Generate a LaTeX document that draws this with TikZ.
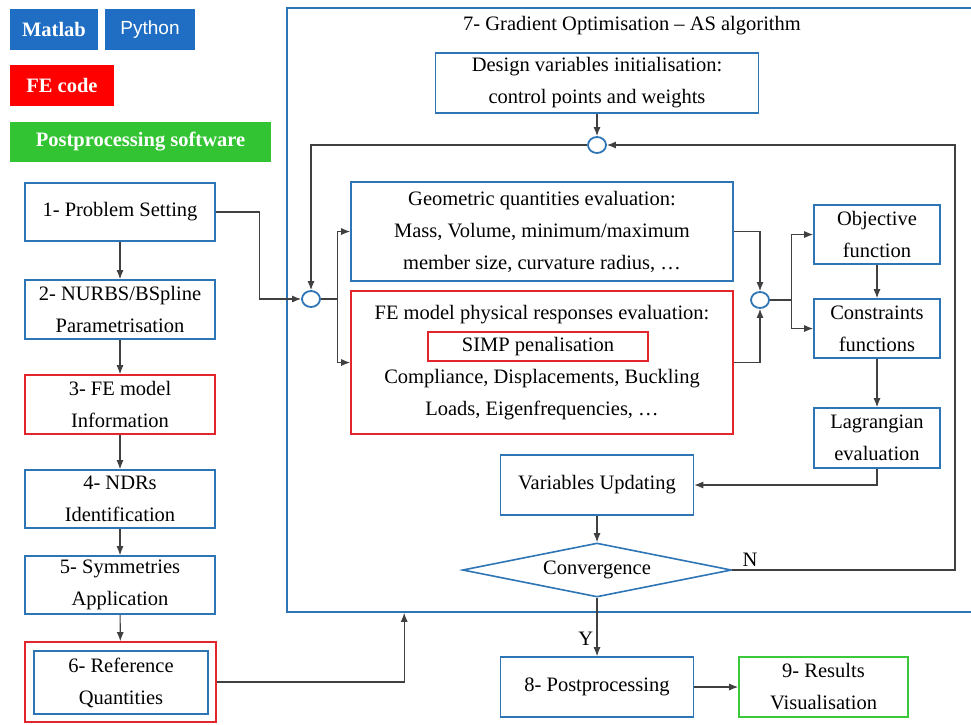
\documentclass[tikz,border=0pt]{standalone}
\usepackage{fontspec}
\setmainfont{Liberation Serif}
\newfontfamily\pysans{Liberation Sans}
\usetikzlibrary{arrows.meta,shapes.geometric}
\definecolor{boxblue}{HTML}{2E75B6}
\definecolor{fered}{HTML}{E3262B}
\definecolor{postgreen}{HTML}{3CC83C}
\definecolor{linegray}{HTML}{404040}
\definecolor{tagblue}{HTML}{1F6EC4}
\definecolor{tagred}{HTML}{FF0000}
\definecolor{taggreen}{HTML}{33C433}
\begin{document}
\begin{tikzpicture}[
  x=1pt, y=-1pt,
  box/.style={draw=boxblue, line width=1.6pt, align=center, inner sep=0pt, font=\fontsize{20.5}{32}\selectfont},
  febox/.style={box, draw=fered},
  postbox/.style={box, draw=postgreen},
  tag/.style={inner sep=0pt, text=white, font=\fontsize{20.5}{24}\selectfont\bfseries},
  junction/.style={ellipse, draw=boxblue, line width=1.8pt, fill=white, minimum width=18pt, minimum height=16pt, inner sep=0pt},
  arrow/.style={-{Latex[length=9pt,width=7pt]}, draw=linegray, line width=1.1pt},
  lbl/.style={font=\fontsize{20.5}{24}\selectfont}
]
\useasboundingbox (0,0) rectangle (971,724);

% legend
\node[tag, fill=tagblue, minimum width=88pt, minimum height=41pt] (matlab) at (54,29.5) {Matlab};
\node[tag, fill=tagblue, minimum width=90pt, minimum height=41pt, font=\fontsize{19}{24}\pysans] (python) at (150,29.5) {Python};
\node[tag, fill=tagred, minimum width=104pt, minimum height=41pt] (fecode) at (62,85.5) {FE code};
\node[tag, fill=taggreen, minimum width=261pt, minimum height=40pt] (postsw) at (140.5,142) {Postprocessing software};

% left column
\node[box, minimum width=190pt, minimum height=58pt] (ps) at (120,212) {1- Problem Setting};
\node[box, minimum width=190pt, minimum height=59pt] (nurbs) at (120,309.5) {2- NURBS/BSpline\\Parametrisation};
\node[febox, minimum width=190pt, minimum height=59pt] (feinfo) at (120,404.5) {3- FE model\\Information};
\node[box, minimum width=190pt, minimum height=58pt] (ndr) at (120,499) {4- NDRs\\Identification};
\node[box, minimum width=190pt, minimum height=58pt] (sym) at (120,585) {5- Symmetries\\Application};
\node[febox, minimum width=191pt, minimum height=80pt] (refout) at (120.5,682) {};
\node[box, minimum width=174pt, minimum height=63pt] (ref) at (121,682.5) {6- Reference\\Quantities};

% optimisation loop
\node[box, minimum width=708pt, minimum height=604pt] (opt) at (641,310) {};
\node[lbl] (title) at (632,26) {7- Gradient Optimisation -- AS algorithm};
\node[box, minimum width=323pt, minimum height=60pt] (design) at (597,83) {Design variables initialisation:\\control points and weights};
\node[junction] (j1) at (597,145) {};
\node[junction] (j2) at (311,299) {};
\node[box, minimum width=382pt, minimum height=99pt] (geom) at (542,231.5) {Geometric quantities evaluation:\\Mass, Volume, minimum/maximum\\member size, curvature radius, …};
\node[febox, minimum width=382pt, minimum height=143pt] (fe) at (542,362.5) {FE model physical responses evaluation:\\\mbox{}\\Compliance, Displacements, Buckling\\Loads, Eigenfrequencies, …};
\node[febox, line width=1.3pt, minimum width=220pt, minimum height=29pt] (simp) at (538,346.5) {SIMP penalisation};
\node[junction] (j3) at (760,300) {};
\node[box, minimum width=126pt, minimum height=59pt] (obj) at (877,234.5) {Objective\\function};
\node[box, minimum width=126pt, minimum height=59pt] (constr) at (877,328.5) {Constraints\\functions};
\node[box, minimum width=126pt, minimum height=60pt] (lag) at (877,438) {Lagrangian\\evaluation};
\node[box, minimum width=193pt, minimum height=60pt] (varup) at (597,485) {Variables Updating};
\node[box, diamond, aspect=5, minimum width=269pt, minimum height=54pt] (conv) at (597,570) {Convergence};
\coordinate (nturn) at (955,570);

% output
\node[box, minimum width=193pt, minimum height=60pt] (post) at (597,687) {8- Postprocessing};
\node[postbox, minimum width=169pt, minimum height=60pt] (res) at (823.5,687) {9- Results\\Visualisation};

% connectors
\draw[arrow] (ps) -- (nurbs);
\draw[arrow] (nurbs) -- (feinfo);
\draw[arrow] (feinfo) -- (ndr);
\draw[arrow] (ndr) -- (sym);
\draw[arrow] (sym) -- (refout);
\draw[arrow] (refout.east) -| ([xshift=118pt]opt.south west);
\draw[arrow] (ps.east) -- ++(44,0) |- (j2.west);
\draw[arrow] (design) -- (j1);
\draw[arrow] (j1.west) -| (j2.north);
\draw[arrow] (j2.east) -- ++(17,0) |- (geom.west);
\draw[arrow] (j2.east) -- ++(17,0) |- (fe.west);
\draw[arrow] (geom.east) -| (j3.north);
\draw[arrow] (fe.east) -| (j3.south);
\draw[arrow] (j3.east) -- ++(22,0) |- (obj.west);
\draw[arrow] (j3.east) -- ++(22,0) |- (constr.west);
\draw[arrow] (obj) -- (constr);
\draw[arrow] (constr) -- (lag);
\draw[arrow] (lag.south) |- (varup.east);
\draw[arrow] (varup) -- (conv);
\draw[arrow] (conv.east) -- node[lbl, above, pos=0.08] {N} (nturn) |- (j1.east);
\draw[arrow] (conv.south) -- node[lbl, left, pos=0.7] {Y} (post.north);
\draw[arrow] (post) -- (res);
\end{tikzpicture}
\end{document}
